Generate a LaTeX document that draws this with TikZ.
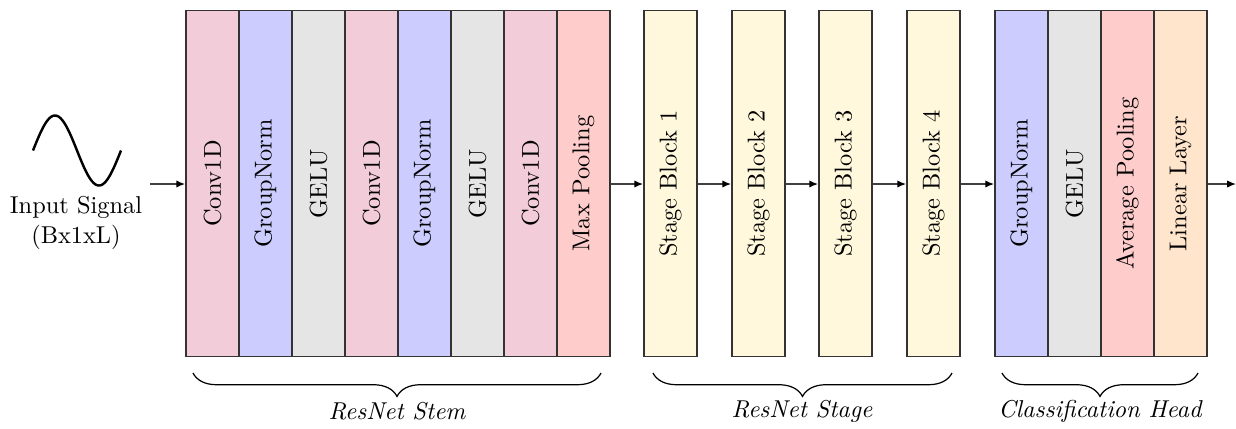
\documentclass[tikz,border=0pt]{standalone}
\usetikzlibrary{arrows.meta,decorations.pathreplacing}
\definecolor{stagecol}{RGB}{255,248,220}
\newcommand\rtxt[1]{\rotatebox{90}{#1}}
\tikzset{
  blk/.style={draw=black!80, line width=0.75pt, minimum width=21.7pt, minimum height=141.9pt, inner sep=0pt},
  conv/.style={blk, fill=purple!20},
  gn/.style={blk, fill=blue!20},
  act/.style={blk, fill=gray!20},
  pool/.style={blk, fill=red!20},
  stg/.style={blk, fill=stagecol},
  lin/.style={blk, fill=orange!20},
  conn/.style={draw=black!75, line width=0.6pt, -{Latex[length=3.6pt,width=3pt,black]}},
  brc/.style={decorate, decoration={brace, mirror, amplitude=9.6pt}, line width=0.5pt},
  grp/.style={font=\itshape}
}
\begin{document}
\begin{tikzpicture}[x=0.41pt, y=-0.41pt]
\useasboundingbox (0,0) rectangle (1236,428);
% input signal
\draw[line width=1pt] plot[domain=0:360, samples=80, smooth] ({33+\x/360*88}, {150.5-35*sin(\x)});
\node[align=center, inner sep=0pt] (inp) at (76,223) {Input Signal\\(Bx1xL)};
\coordinate (in) at (150,184);
% stem
\node[conv] (s1) at (212.5,183.5) {\rtxt{Conv1D}};
\node[gn]   (s2) at (265.5,183.5) {\rtxt{GroupNorm}};
\node[act]  (s3) at (318.5,183.5) {\rtxt{GELU}};
\node[conv] (s4) at (371.5,183.5) {\rtxt{Conv1D}};
\node[gn]   (s5) at (424.5,183.5) {\rtxt{GroupNorm}};
\node[act]  (s6) at (477.5,183.5) {\rtxt{GELU}};
\node[conv] (s7) at (530.5,183.5) {\rtxt{Conv1D}};
\node[pool] (s8) at (583.5,183.5) {\rtxt{Max Pooling}};
% stages
\node[stg] (b1) at (670.5,183.5) {\rtxt{Stage Block 1}};
\node[stg] (b2) at (758.5,183.5) {\rtxt{Stage Block 2}};
\node[stg] (b3) at (845.5,183.5) {\rtxt{Stage Block 3}};
\node[stg] (b4) at (933.5,183.5) {\rtxt{Stage Block 4}};
% head
\node[gn]   (h1) at (1021.5,183.5) {\rtxt{GroupNorm}};
\node[act]  (h2) at (1074.5,183.5) {\rtxt{GELU}};
\node[pool] (h3) at (1127.5,183.5) {\rtxt{Average Pooling}};
\node[lin]  (h4) at (1180.5,183.5) {\rtxt{Linear Layer}};
\coordinate (out) at (1236,184);
% connectors
\draw[conn] (in) -- (s1.west |- in);
\draw[conn] (s8.east |- in) -- (b1.west |- in);
\draw[conn] (b1.east |- in) -- (b2.west |- in);
\draw[conn] (b2.east |- in) -- (b3.west |- in);
\draw[conn] (b3.east |- in) -- (b4.west |- in);
\draw[conn] (b4.east |- in) -- (h1.west |- in);
\draw[conn] (h4.east |- in) -- (out);
% braces
\coordinate (sa) at (193,373); \coordinate (sb) at (601,373);
\coordinate (ta) at (653,373); \coordinate (tb) at (952,373);
\coordinate (ha) at (1002,373); \coordinate (hb) at (1198,373);
\draw[brc] (sa) -- (sb);
\draw[brc] (ta) -- (tb);
\draw[brc] (ha) -- (hb);
\node[grp] (ls) at (397,411) {ResNet Stem};
\node[grp] (lt) at (802,411) {ResNet Stage};
\node[grp] (lh) at (1100,411) {Classification Head};
\end{tikzpicture}
\end{document}
